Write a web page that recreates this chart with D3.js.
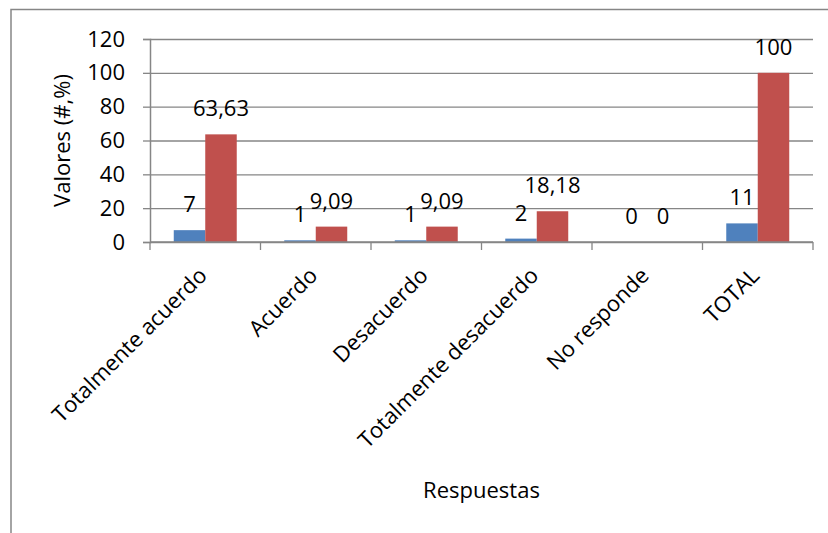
<!DOCTYPE html>
<html>
<head>
<meta charset="utf-8">
<script src="https://cdn.jsdelivr.net/npm/d3@7"></script>
<style>
  body { margin: 0; background: #fff; }
  text { font-family: "Open Sans", sans-serif; fill: #000; }
</style>
</head>
<body>
<div id="chart"></div>
<script>
// data
var categories = ["Totalmente acuerdo", "Acuerdo", "Desacuerdo", "Totalmente desacuerdo", "No responde", "TOTAL"];
var countVals = [7, 1, 1, 2, 0, 11];
var pctVals = [63.63, 9.09, 9.09, 18.18, 0, 100];
var yTicks = [0, 20, 40, 60, 80, 100, 120];
var seriesColors = ["#4f81bd", "#c0504d"];

var W = 828, H = 533;
// plot box (note: "top" is a reserved window prop, so p-prefixed names)
var pLeft = 150, pRight = 813, pTop = 39, pBottom = 242;
var grey = "#868686";

var svg = d3.select("#chart").append("svg")
  .attr("width", W).attr("height", H);

// chart frame (runs off the right / bottom edge)
svg.append("rect")
  .attr("x", 11).attr("y", 9.5)
  .attr("width", 900).attr("height", 600)
  .attr("fill", "none").attr("stroke", grey).attr("stroke-width", 1.5);

var y = d3.scaleLinear().domain([0, 120]).range([pBottom, pTop]);
var x0 = d3.scaleBand().domain(categories).range([pLeft, pRight])
  .paddingInner(0.43).paddingOuter(0.215);
var x1 = d3.scaleBand().domain([0, 1]).range([0, x0.bandwidth()]);

// gridlines
svg.append("g")
  .attr("transform", "translate(" + pLeft + ",0)")
  .call(d3.axisLeft(y).tickValues(yTicks).tickSize(-(pRight - pLeft)).tickFormat(""))
  .call(function(g) {
    g.select(".domain").remove();
    g.selectAll("line").attr("stroke", grey).attr("stroke-width", 1.3);
  });

// y axis with outside ticks and labels
svg.append("g")
  .attr("transform", "translate(" + pLeft + ",0)")
  .call(d3.axisLeft(y).tickValues(yTicks).tickSize(7).tickPadding(18))
  .call(function(g) {
    g.select(".domain").attr("stroke", grey).attr("stroke-width", 1.5);
    g.selectAll("line").attr("stroke", grey).attr("stroke-width", 1.3);
    g.selectAll("text").attr("font-size", 22).attr("font-family", "Open Sans").attr("fill", "#000");
  });

// bars
var groups = svg.append("g").selectAll("g")
  .data(categories)
  .join("g")
  .attr("transform", function(d) { return "translate(" + x0(d) + ",0)"; });

groups.selectAll("rect")
  .data(function(d, i) { return [countVals[i], pctVals[i]]; })
  .join("rect")
  .attr("x", function(d, j) { return x1(j); })
  .attr("y", function(d) { return y(d); })
  .attr("width", x1.bandwidth())
  .attr("height", function(d) { return pBottom - y(d); })
  .attr("fill", function(d, j) { return seriesColors[j]; });

groups.selectAll("text")
  .data(function(d, i) { return [countVals[i], pctVals[i]]; })
  .join("text")
  .attr("x", function(d, j) { return x1(j) + x1.bandwidth() / 2; })
  .attr("y", function(d) { return y(d) - 18; })
  .attr("text-anchor", "middle")
  .attr("font-size", 22)
  .text(function(d) { return String(d).replace(".", ","); });

// x axis line and boundary ticks
svg.append("line")
  .attr("x1", pLeft).attr("x2", pRight)
  .attr("y1", pBottom).attr("y2", pBottom)
  .attr("stroke", grey).attr("stroke-width", 1.5);

svg.append("g").selectAll("line")
  .data(d3.range(categories.length + 1))
  .join("line")
  .attr("x1", function(i) { return pLeft + i * x0.step(); })
  .attr("x2", function(i) { return pLeft + i * x0.step(); })
  .attr("y1", pBottom).attr("y2", pBottom + 8)
  .attr("stroke", grey).attr("stroke-width", 1.3);

// rotated category labels
svg.append("g").selectAll("text")
  .data(categories)
  .join("text")
  .attr("transform", function(d) {
    var cx = x0(d) + x0.bandwidth() / 2;
    return "translate(" + (cx + 3) + ",277) rotate(-45)";
  })
  .attr("text-anchor", "end")
  .attr("font-size", 22)
  .text(function(d) { return d; });

// axis titles
svg.append("text")
  .attr("transform", "translate(70," + ((pTop + pBottom) / 2) + ") rotate(-90)")
  .attr("text-anchor", "middle")
  .attr("font-size", 22)
  .text("Valores (#,%)");

svg.append("text")
  .attr("x", (pLeft + pRight) / 2).attr("y", 498)
  .attr("text-anchor", "middle")
  .attr("font-size", 22)
  .text("Respuestas");
</script>
</body>
</html>
